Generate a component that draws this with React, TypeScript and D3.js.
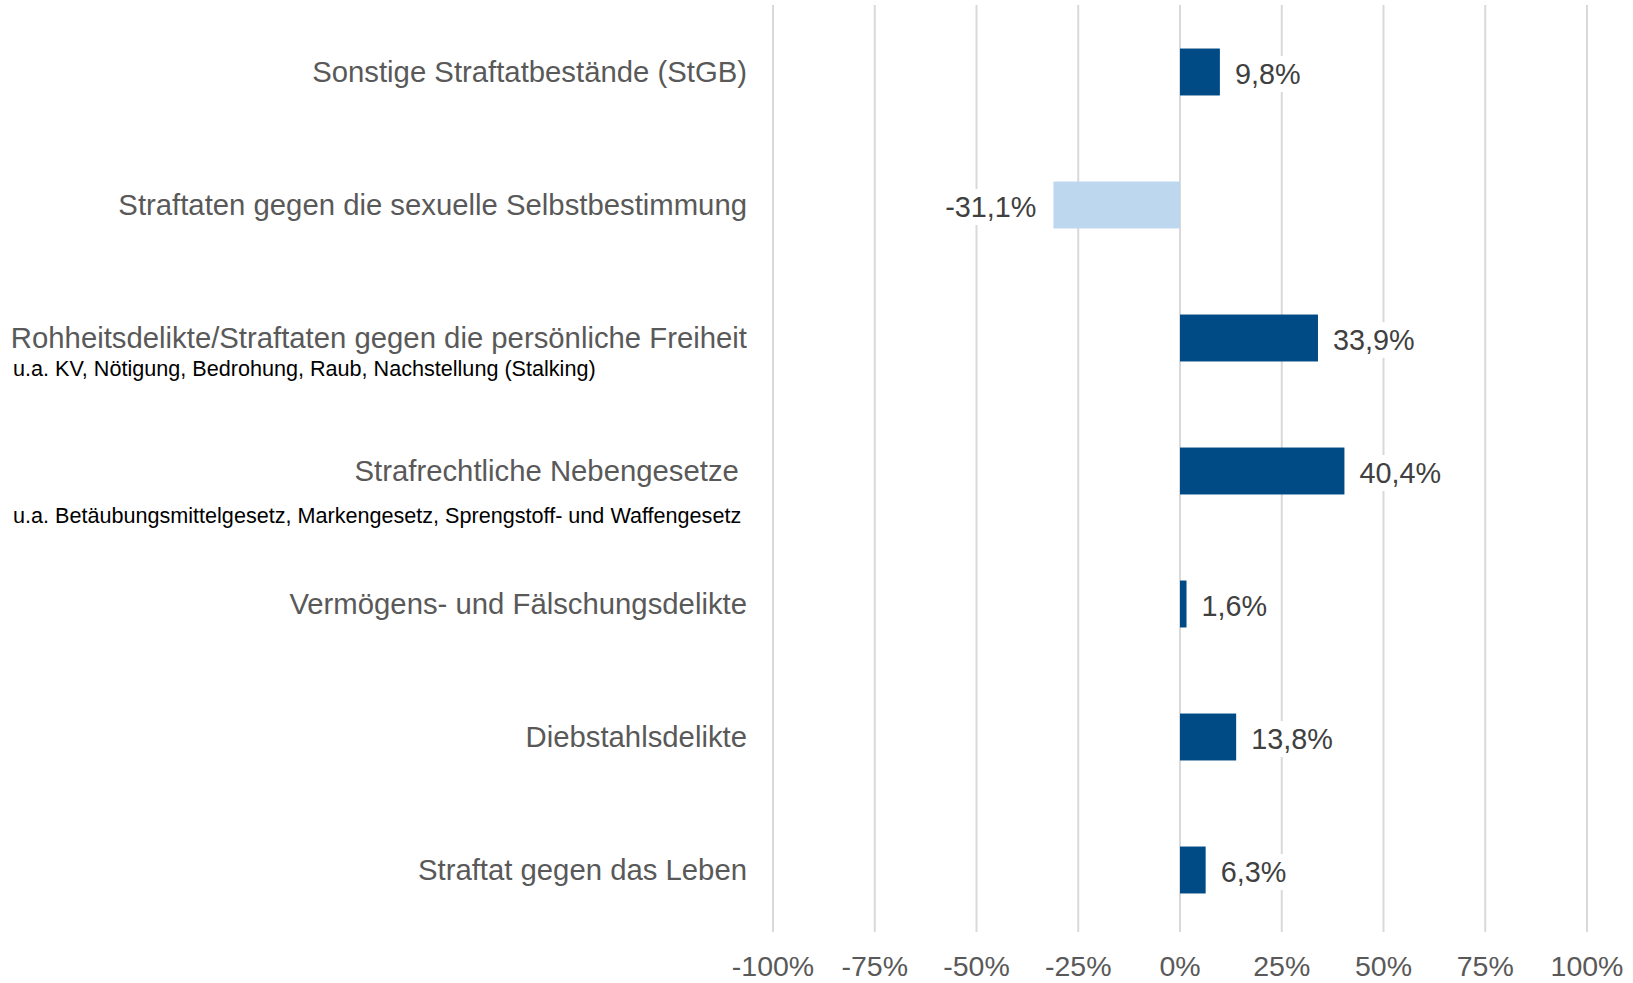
import { useEffect, useRef } from 'react'
import * as d3 from 'd3'

// Veränderung der Fallzahlen nach Deliktsbereich
const categories = [
  'Sonstige Straftatbestände (StGB)',
  'Straftaten gegen die sexuelle Selbstbestimmung',
  'Rohheitsdelikte/Straftaten gegen die persönliche Freiheit',
  'Strafrechtliche Nebengesetze ',
  'Vermögens- und Fälschungsdelikte',
  'Diebstahlsdelikte',
  'Straftat gegen das Leben',
]
const subLabels = [
  '',
  '',
  'u.a. KV, Nötigung, Bedrohung, Raub, Nachstellung (Stalking)',
  'u.a. Betäubungsmittelgesetz, Markengesetz, Sprengstoff- und Waffengesetz',
  '',
  '',
  '',
]
const changes = [9.8, -31.1, 33.9, 40.4, 1.6, 13.8, 6.3]
const tickValues = [-100, -75, -50, -25, 0, 25, 50, 75, 100]

const subOffsets = [0, 0, 30, 44, 0, 0, 0]
const FONT = '"Liberation Sans", Arial, Helvetica, sans-serif'

const fmt = (v: number) => v.toFixed(1).replace('.', ',') + '%'

export default function App() {
  const svgRef = useRef<SVGSVGElement>(null)

  useEffect(() => {
    if (!svgRef.current) return
    const svg = d3.select(svgRef.current)
    svg.selectAll('*').remove()

    const x = d3.scaleLinear().domain([-100, 100]).range([773, 1587])
    const y = d3.scaleBand<string>()
      .domain(categories)
      .range([5.5, 936.5])
      .paddingInner(0.647)
      .paddingOuter(0.3235)

    // gridlines
    svg.append('g')
      .selectAll('line')
      .data(tickValues)
      .join('line')
      .attr('x1', d => x(d))
      .attr('x2', d => x(d))
      .attr('y1', 5)
      .attr('y2', 932)
      .attr('stroke', '#d9d9d9')
      .attr('stroke-width', 2)

    // tick labels
    svg.append('g')
      .selectAll('text')
      .data(tickValues)
      .join('text')
      .attr('x', d => x(d))
      .attr('y', 976)
      .attr('text-anchor', 'middle')
      .attr('font-family', FONT)
      .attr('font-size', 28.5)
      .attr('fill', '#595959')
      .text(d => d + '%')

    // bars
    svg.append('g')
      .selectAll('rect')
      .data(changes)
      .join('rect')
      .attr('x', d => x(Math.min(0, d)))
      .attr('y', (d, i) => y(categories[i])!)
      .attr('width', d => Math.abs(x(d) - x(0)))
      .attr('height', y.bandwidth())
      .attr('fill', d => (d < 0 ? '#bdd7ee' : '#004a86'))

    // value labels with white background
    const labels = svg.append('g')
    changes.forEach((d, i) => {
      const cy = y(categories[i])! + y.bandwidth() / 2 + 2
      const g = labels.append('g')
      const t = g.append('text')
        .attr('x', d < 0 ? x(d) - 17 : x(d) + 15)
        .attr('y', cy)
        .attr('dy', '0.35em')
        .attr('text-anchor', d < 0 ? 'end' : 'start')
        .attr('font-family', FONT)
        .attr('font-size', 28.8)
        .attr('fill', '#404040')
        .text(fmt(d))
      const bb = (t.node() as SVGTextElement).getBBox()
      g.insert('rect', 'text')
        .attr('x', bb.x - 3)
        .attr('y', bb.y - 2)
        .attr('width', bb.width + 6)
        .attr('height', bb.height + 4)
        .attr('fill', '#fff')
    })

    // category labels
    const cat = svg.append('g')
    categories.forEach((c, i) => {
      const cy = y(c)! + y.bandwidth() / 2
      cat.append('text')
        .attr('x', 747)
        .attr('y', cy)
        .attr('dy', '0.35em')
        .attr('text-anchor', 'end')
        .attr('font-family', FONT)
        .attr('font-size', 29.3)
        .attr('fill', '#595959')
        .style('white-space', 'pre')
        .text(c)
      if (subLabels[i]) {
        cat.append('text')
          .attr('x', 13)
          .attr('y', cy + subOffsets[i])
          .attr('dy', '0.35em')
          .attr('font-family', FONT)
          .attr('font-size', 21.6)
          .attr('fill', '#000')
          .text(subLabels[i])
      }
    })
  }, [])

  return (
    <svg
      ref={svgRef}
      width={1633}
      height={983}
      style={{ position: 'absolute', left: 0, top: 0, background: '#fff' }}
    />
  )
}
